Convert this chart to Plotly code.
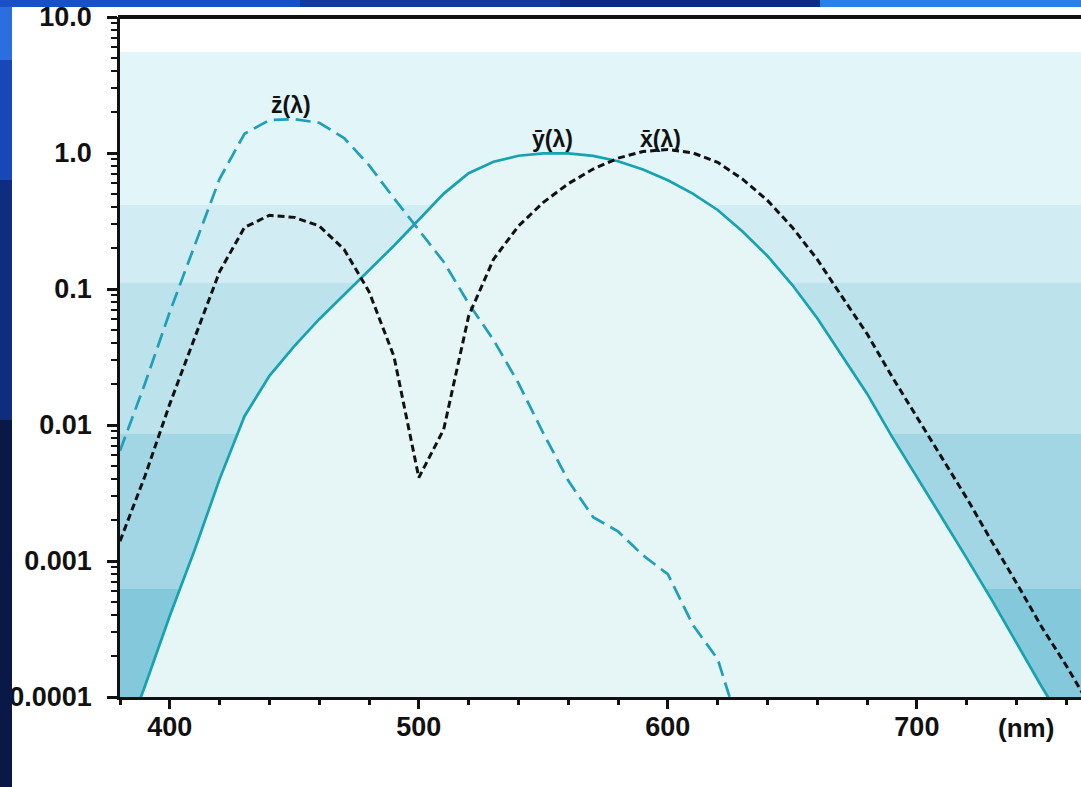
import numpy as np
import plotly.graph_objects as go

# wavelengths (nm)
wl = [380, 390, 400, 410, 420, 430, 440, 450, 460, 470, 480, 490, 500, 510, 520,
      530, 540, 550, 560, 570, 580, 590, 600, 610, 620, 630, 640, 650, 660, 670,
      680, 690, 700, 710, 720, 730, 740, 750, 760, 770, 780]

xbar = [0.0014, 0.0042, 0.0143, 0.0435, 0.1344, 0.2839, 0.3483, 0.3362, 0.2908, 0.1954,
        0.0956, 0.0320, 0.0041, 0.0093, 0.0633, 0.1655, 0.2904, 0.4334, 0.5945, 0.7621,
        0.9163, 1.0263, 1.0622, 1.0026, 0.8544, 0.6424, 0.4479, 0.2835, 0.1649, 0.0874,
        0.0468, 0.0227, 0.0114, 0.0058, 0.0029, 0.0014, 0.00069, 0.00033, 0.00017,
        0.000083, 0.000042]

ybar = [0.000039, 0.00012, 0.000396, 0.00121, 0.0040, 0.0116, 0.023, 0.038, 0.060, 0.091,
        0.139, 0.208, 0.323, 0.503, 0.710, 0.862, 0.954, 0.995, 0.995, 0.952,
        0.870, 0.757, 0.631, 0.503, 0.381, 0.265, 0.175, 0.107, 0.061, 0.032,
        0.017, 0.00821, 0.0041, 0.00209, 0.00105, 0.00052, 0.00025, 0.00012, 0.00006,
        0.00003, 0.000015]

wl_z = [380, 390, 400, 410, 420, 430, 440, 450, 460, 470, 480, 490, 500, 510, 520,
        530, 540, 550, 560, 570, 580, 590, 600, 610, 620, 630]
zbar = [0.00645, 0.0201, 0.0679, 0.2074, 0.6456, 1.3856, 1.7471, 1.7721, 1.6692, 1.2876,
        0.8130, 0.4652, 0.2720, 0.1582, 0.0782, 0.0422, 0.0203, 0.0087, 0.0039, 0.0021,
        0.00165, 0.0011, 0.0008, 0.00034, 0.00019, 0.00005]

y_tickvals = [0.0001, 0.001, 0.01, 0.1, 1.0, 10.0]
y_ticktext = ["0.0001", "0.001", "0.01", "0.1", "1.0", "10.0"]
x_tickvals = [400, 500, 600, 700]
x_ticktext = ["400", "500", "600", "700"]

# curve labels: (text, wavelength, value)
labels = [("z\u0304(\u03bb)", 448.7, 2.25),
          ("y\u0304(\u03bb)", 553.5, 1.27),
          ("x\u0304(\u03bb)", 596.9, 1.27)]

# background bands (value edges, colours)
band_edges = [0.0001, 0.00063, 0.0087, 0.112, 0.415, 5.53]
band_colors = ["#84c8db", "#a2d6e4", "#bce2eb", "#d2ecf3", "#e2f5f9"]

YLOG = [-4, 1]
XR = [380, 765.9]
FONT = "Liberation Sans"

fig = go.Figure()
base = [1e-6] * len(wl)
fig.add_trace(go.Scatter(x=wl, y=base, mode="lines", line=dict(width=0, color="rgba(0,0,0,0)"),
                         hoverinfo="skip", showlegend=False))
fig.add_trace(go.Scatter(x=wl, y=ybar, mode="lines", fill="tonexty", fillcolor="#e6f6f7",
                         line=dict(color="#17a2b0", width=2.7), showlegend=False))
fig.add_trace(go.Scatter(x=wl_z, y=zbar, mode="lines",
                         line=dict(color="#1f9fb8", width=2.7, dash="15px,7px"), showlegend=False))
fig.add_trace(go.Scatter(x=wl, y=xbar, mode="lines",
                         line=dict(color="#111111", width=3, dash="7px,4px"), showlegend=False))

def ypaper(v):
    return (np.log10(v) - YLOG[0]) / (YLOG[1] - YLOG[0])

shapes = []
for i, c in enumerate(band_colors):
    shapes.append(dict(type="rect", xref="paper", yref="paper", x0=0, x1=1,
                       y0=ypaper(band_edges[i]), y1=ypaper(band_edges[i + 1]),
                       fillcolor=c, line=dict(width=0), layer="below"))

# top frame line
shapes.append(dict(type="line", xref="paper", yref="paper", x0=-0.002, x1=1, y0=1, y1=1,
                   line=dict(color="#111111", width=4), layer="above"))

# slide border (blue)
L, T, W, H = 120, 17, 961, 680
def px(xp):
    return (xp - L) / W
def py(yp):
    return (T + H - yp) / H

border = [
    (0, 12, 0, 60, "#2a6ee0"),
    (0, 12, 60, 180, "#1848b8"),
    (0, 12, 180, 420, "#0f2c80"),
    (0, 12, 420, 787, "#0a1848"),
    (0, 300, 0, 7, "#1a50c4"),
    (300, 560, 0, 7, "#123c9c"),
    (560, 820, 0, 7, "#0c2c84"),
    (820, 1081, 0, 7, "#2a80e4"),
]
for x0, x1, y0, y1, c in border:
    shapes.append(dict(type="rect", xref="paper", yref="paper", x0=px(x0), x1=px(x1),
                       y0=py(y1), y1=py(y0), fillcolor=c, line=dict(width=0), layer="above"))

annotations = []
for t, xv, yv in labels:
    annotations.append(dict(x=xv, y=np.log10(yv), xref="x", yref="y", text=t, showarrow=False,
                            font=dict(family=FONT, size=23, color="#111111", weight="bold")))
annotations.append(dict(x=744, y=-0.045, xref="x", yref="paper", text="(nm)", showarrow=False,
                        yanchor="middle",
                        font=dict(family=FONT, size=26, color="#111111", weight="bold")))

fig.update_layout(
    width=1081, height=787,
    margin=dict(l=L, r=0, t=T, b=787 - T - H, pad=0),
    paper_bgcolor="white", plot_bgcolor="white",
    shapes=shapes, annotations=annotations,
    font=dict(family=FONT, color="#111111"),
)
fig.update_xaxes(range=XR, tickmode="array", tickvals=x_tickvals, ticktext=x_ticktext,
                 ticks="outside", ticklen=9, tickwidth=2.5, tickcolor="#111111", automargin=False,
                 showline=True, linecolor="#111111", linewidth=2.5, showgrid=False, zeroline=False,
                 tickfont=dict(family=FONT, size=27, color="#111111", weight="bold"),
                 ticklabelstandoff=-5,
                 minor=dict(dtick=20, tick0=380, ticks="outside", ticklen=5, tickwidth=2.5,
                            tickcolor="#111111", showgrid=False))
minor_y = [k * 10.0 ** e for e in range(-4, 1) for k in range(2, 10)]
fig.update_yaxes(type="log", range=YLOG, tickmode="array", tickvals=y_tickvals, ticktext=y_ticktext,
                 ticks="outside", ticklen=10, tickwidth=2.5, tickcolor="#111111", automargin=False,
                 showline=True, linecolor="#111111", linewidth=2.5, showgrid=False, zeroline=False,
                 tickfont=dict(family=FONT, size=27, color="#111111", weight="bold"),
                 ticklabelstandoff=10,
                 minor=dict(tickvals=minor_y, ticks="outside", ticklen=6, tickwidth=2,
                            tickcolor="#111111", showgrid=False))

fig.write_html("out.html",
               config={"displayModeBar": False},
               post_script="document.body.style.margin='0';document.body.style.padding='0';"
                           "document.documentElement.style.overflow='hidden';")
